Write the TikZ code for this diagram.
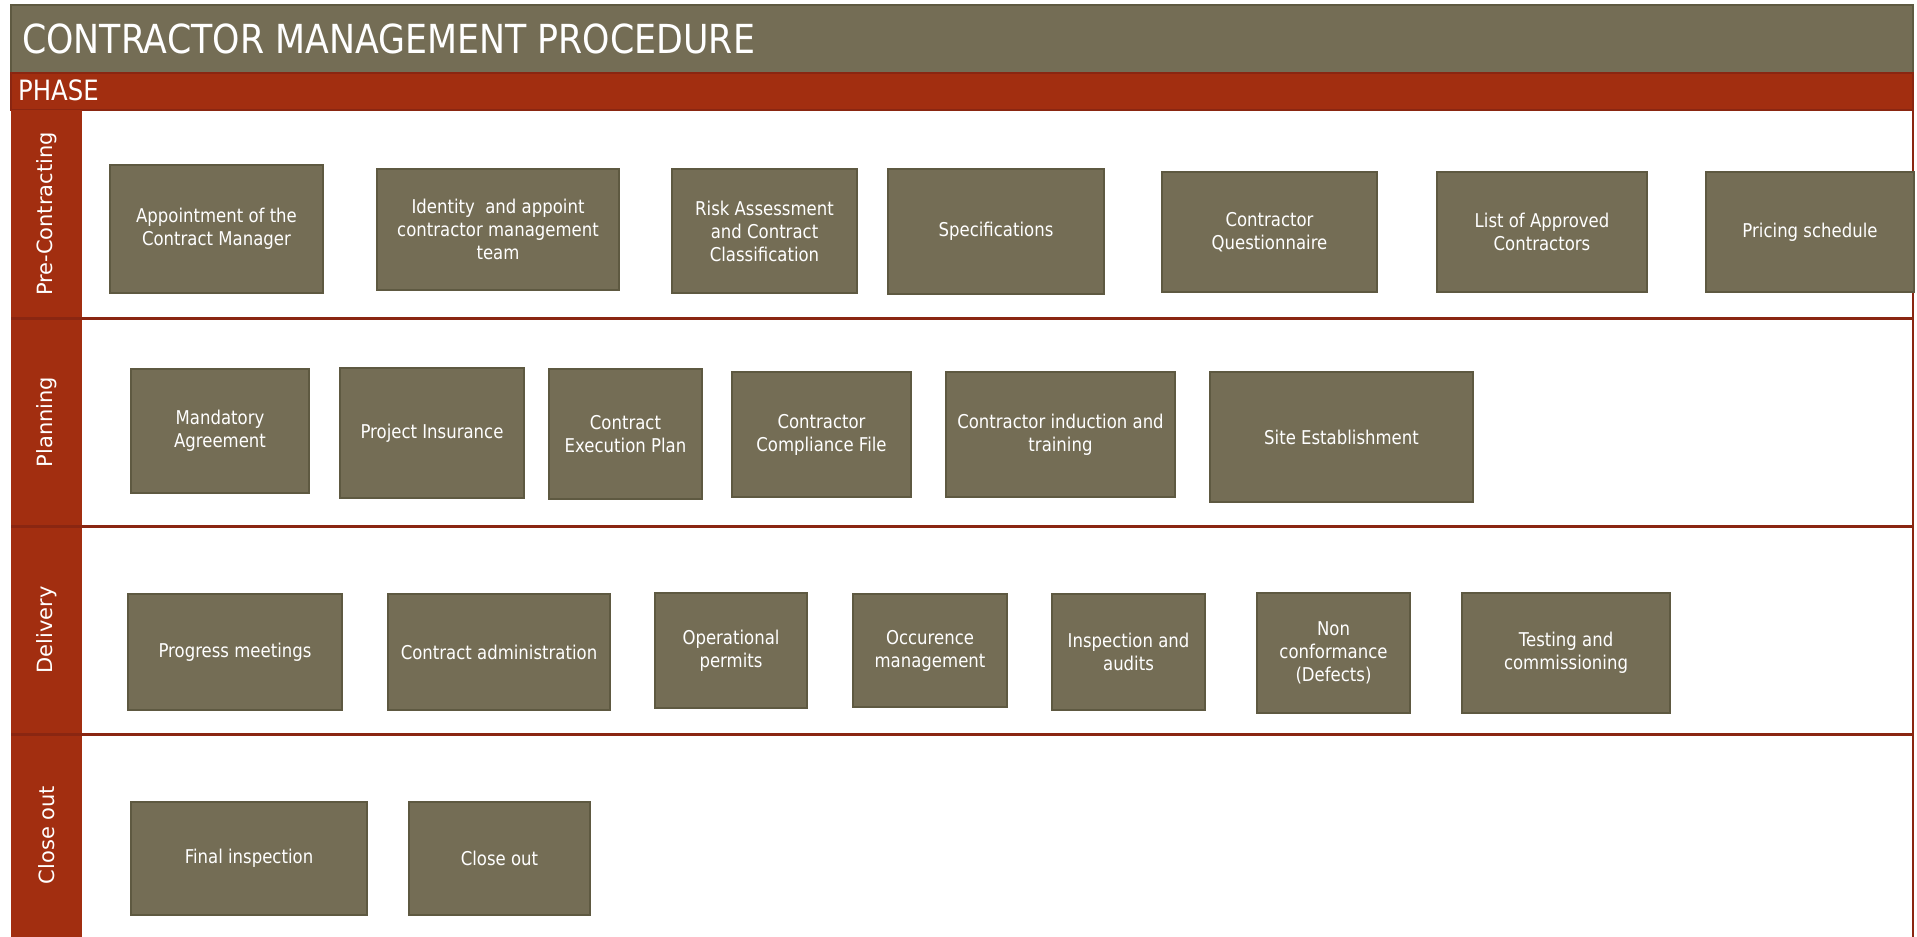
\documentclass[tikz,border=0pt]{standalone}
\usepackage{fontspec}
\setmainfont{DejaVu Sans}
\newfontfamily\narrowfont{DejaVu Sans}[FakeStretch=0.87]
\usepackage{tikz}

\definecolor{boxfill}{HTML}{746D55}
\definecolor{boxline}{HTML}{5E5941}
\definecolor{phasered}{HTML}{A22E10}
\definecolor{lanered}{HTML}{8A2611}

\begin{document}
\begin{tikzpicture}[x=1pt, y=-1pt,
    task/.style={draw=boxline, fill=boxfill, line width=2.5pt, text=white, align=center,
        inner sep=2pt, font=\narrowfont\fontsize{19}{23}\selectfont},
    lanelabel/.style={rotate=90, text=white, inner sep=0pt, font=\fontsize{21}{25}\selectfont}]
    \useasboundingbox (0,0) rectangle (1917,937);

    % Title bar
    \filldraw[fill=boxfill, draw=boxline, line width=2pt] (11,5) rectangle (1913,73);
    \node[anchor=west, inner sep=0pt, text=white, font=\narrowfont\fontsize{40}{48}\selectfont] (title) at (22,39) {CONTRACTOR MANAGEMENT PROCEDURE};

    % Phase bar
    \filldraw[fill=phasered, draw=lanered, line width=2pt] (11,73) rectangle (1913,110);
    \node[anchor=west, inner sep=0pt, text=white, font=\narrowfont\fontsize{28}{32}\selectfont] (phase) at (18,90) {PHASE};

    % Lane column, frame and separators
    \fill[phasered] (11,110) rectangle (82,937);
    \draw[lanered, line width=1.5pt] (1913,110) -- (1913,937);
    \foreach \y in {318,526,734}
        \draw[lanered, line width=3pt] (11,\y) -- (1913,\y);

    % Lane labels
    \node[lanelabel] (pre) at (46.5,214) {Pre-Contracting};
    \node[lanelabel] (plan) at (46.5,422) {Planning};
    \node[lanelabel] (deliv) at (46.5,630) {Delivery};
    \node[lanelabel] (close) at (46.5,835) {Close out};

    % Pre-Contracting
    \node[task, minimum width=213pt, minimum height=128pt] (appoint) at (216.5,229) {Appointment of the\\Contract Manager};
    \node[task, minimum width=242pt, minimum height=121pt] (team) at (498,229.5) {Identity\ \ and appoint\\contractor management\\team};
    \node[task, minimum width=185pt, minimum height=124pt] (risk) at (764.5,231) {Risk Assessment\\and Contract\\Classification};
    \node[task, minimum width=216pt, minimum height=125pt] (spec) at (996,231.5) {Specifications};
    \node[task, minimum width=215pt, minimum height=120pt] (quest) at (1269.5,232) {Contractor\\Questionnaire};
    \node[task, minimum width=210pt, minimum height=120pt] (approved) at (1542,232) {List of Approved\\Contractors};
    \node[task, minimum width=208pt, minimum height=120pt] (pricing) at (1810,232) {Pricing schedule};

    % Planning
    \node[task, minimum width=178pt, minimum height=124pt] (mandatory) at (220,431) {Mandatory\\Agreement};
    \node[task, minimum width=184pt, minimum height=130pt] (insurance) at (432,433) {Project Insurance};
    \node[task, minimum width=153pt, minimum height=130pt] (execplan) at (625.5,434) {Contract\\Execution Plan};
    \node[task, minimum width=179pt, minimum height=125pt] (compliance) at (821.5,434.5) {Contractor\\Compliance File};
    \node[task, minimum width=229pt, minimum height=125pt] (induction) at (1060.5,434.5) {Contractor induction and\\training};
    \node[task, minimum width=263pt, minimum height=130pt] (site) at (1341.5,437) {Site Establishment};

    % Delivery
    \node[task, minimum width=214pt, minimum height=116pt] (progress) at (235,652) {Progress meetings};
    \node[task, minimum width=222pt, minimum height=116pt] (admin) at (499,652) {Contract administration};
    \node[task, minimum width=152pt, minimum height=115pt] (permits) at (731,650.5) {Operational\\permits};
    \node[task, minimum width=154pt, minimum height=113pt] (occur) at (930,650.5) {Occurence\\management};
    \node[task, minimum width=153pt, minimum height=116pt] (audits) at (1128.5,652) {Inspection and\\audits};
    \node[task, minimum width=153pt, minimum height=120pt] (defects) at (1333.5,653) {Non\\conformance\\(Defects)};
    \node[task, minimum width=208pt, minimum height=120pt] (testing) at (1566,653) {Testing and\\commissioning};

    % Close out
    \node[task, minimum width=236pt, minimum height=113pt] (final) at (249,858.5) {Final inspection};
    \node[task, minimum width=181pt, minimum height=113pt] (closeout) at (499.5,858.5) {Close out};

\end{tikzpicture}
\end{document}
